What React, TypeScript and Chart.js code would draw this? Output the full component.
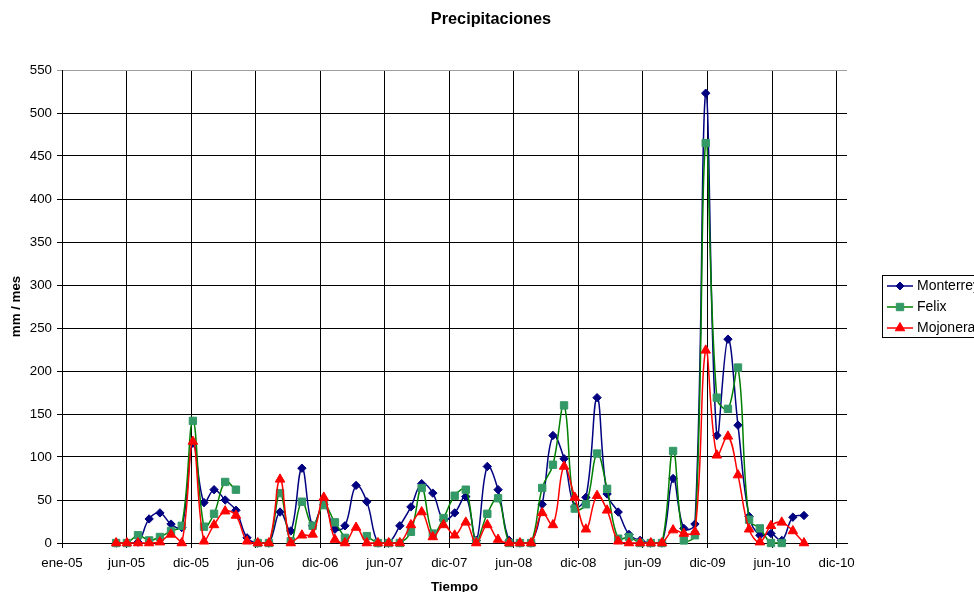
import React, { useEffect, useRef } from 'react';
import { Chart, registerables } from 'chart.js';

Chart.register(...registerables);

// Monthly precipitation (mm / mes), one value per month starting at startMonth
const startMonth = '2005-06';

const monterrey = [
  0, 0, 1, 28, 35, 22, 18, 116, 47, 62, 50, 38,
  6, 0, 0, 36, 14, 87, 20, 45, 16, 20, 67, 48,
  0, 0, 20, 42, 69, 58, 27, 35, 54, 3, 89, 62,
  3, 0, 0, 45, 125, 98, 42, 53, 169, 57, 36, 10,
  3, 0, 0, 75, 17, 22, 523, 125, 237, 137, 31, 9,
  11, 3, 30, 32,
];

const felix = [
  0, 0, 9, 3, 7, 14, 20, 142, 19, 34, 71, 62,
  null, 0, 0, 58, 2, 48, 20, 44, 24, 6, null, 8,
  0, 0, 0, 13, 64, 11, 29, 55, 62, 2, 34, 52,
  0, 0, 0, 64, 91, 160, 40, 45, 104, 63, 5, 7,
  0, 0, 0, 107, 3, 9, 465, 169, 156, 204, 27, 17,
  0, 0,
];

const mojonera = [
  0, 0, 0, 0, 1, 10, 0, 118, 2, 21, 37, 32,
  2, 0, 0, 74, 0, 9, 10, 53, 4, 0, 18, 0,
  0, 0, 0, 21, 36, 7, 21, 9, 24, 0, 21, 4,
  0, 0, 0, 35, 21, 89, 53, 16, 55, 38, 2, 0,
  0, 0, 0, 15, 11, 13, 224, 102, 124, 79, 16, 1,
  20, 24, 14, 0,
];

// Date axis: labels every 180 days counted from 1 Jan 2005
const xTickLabels = [
  'ene-05', 'jun-05', 'dic-05', 'jun-06', 'dic-06', 'jun-07', 'dic-07',
  'jun-08', 'dic-08', 'jun-09', 'dic-09', 'jun-10', 'dic-10',
];
const tickDays = 180;
const axisEndDays = 2189;
const yMax = 550;
const yStep = 50;

const FONT = '"Liberation Sans", Arial, sans-serif';
const DAY_MS = 86400000;
const origin = Date.UTC(2005, 0, 1);

function dayOfMonth(i: number): number {
  const [y, m] = startMonth.split('-').map(Number);
  return (Date.UTC(y, m - 1 + i, 1) - origin) / DAY_MS;
}

function toPoints(values: (number | null)[]) {
  return values.map((v, i) => ({ x: dayOfMonth(i), y: v }));
}

type Entry = { label: string; line: string; fill: string; marker: 'diamond' | 'square' | 'triangle' };

const legendEntries: Entry[] = [
  { label: 'Monterrey', line: '#000080', fill: '#000080', marker: 'diamond' },
  { label: 'Felix', line: '#008000', fill: '#339966', marker: 'square' },
  { label: 'Mojonera', line: '#ff0000', fill: '#ff0000', marker: 'triangle' },
];

function drawMarker(ctx: CanvasRenderingContext2D, e: Entry, x: number, y: number) {
  ctx.fillStyle = e.fill;
  ctx.strokeStyle = e.fill;
  ctx.lineWidth = 1;
  ctx.beginPath();
  if (e.marker === 'diamond') {
    const r = 4;
    ctx.moveTo(x - r, y);
    ctx.lineTo(x, y - r);
    ctx.lineTo(x + r, y);
    ctx.lineTo(x, y + r);
  } else if (e.marker === 'square') {
    const h = 3.7;
    ctx.rect(x - h, y - h, 2 * h, 2 * h);
  } else {
    const r = 5.5;
    ctx.moveTo(x, y - r);
    ctx.lineTo(x + 0.866 * r, y + 0.5 * r);
    ctx.lineTo(x - 0.866 * r, y + 0.5 * r);
  }
  ctx.closePath();
  ctx.fill();
  ctx.stroke();
}

// Chart title and the boxed legend on the right
const overlayPlugin = {
  id: 'overlay',
  afterDraw(chart: Chart) {
    const ctx = chart.ctx;
    ctx.save();
    ctx.fillStyle = '#000';
    ctx.font = `bold 16.3px ${FONT}`;
    ctx.textAlign = 'center';
    ctx.textBaseline = 'middle';
    ctx.fillText('Precipitaciones', 491, 20);

    ctx.strokeStyle = '#000';
    ctx.lineWidth = 1;
    ctx.strokeRect(882.5, 275.5, 140, 62);

    legendEntries.forEach((e, k) => {
      const y = 286 + k * 21;
      ctx.strokeStyle = e.line;
      ctx.lineWidth = 1.5;
      ctx.beginPath();
      ctx.moveTo(887, y);
      ctx.lineTo(913, y);
      ctx.stroke();
      drawMarker(ctx, e, 900, y);
      ctx.fillStyle = '#000';
      ctx.font = `14px ${FONT}`;
      ctx.textAlign = 'left';
      ctx.textBaseline = 'middle';
      ctx.fillText(e.label, 917, y);
    });
    ctx.restore();
  },
};

export default function App() {
  const canvasRef = useRef<HTMLCanvasElement | null>(null);

  useEffect(() => {
    const canvas = canvasRef.current;
    if (!canvas) return;

    const chart = new Chart(canvas, {
      type: 'line',
      data: {
        datasets: [
          {
            label: 'Monterrey',
            data: toPoints(monterrey),
            borderColor: '#000080',
            backgroundColor: '#000080',
            pointBackgroundColor: '#000080',
            pointBorderColor: '#000080',
            pointStyle: 'rectRot',
            pointRadius: 4.2,
            pointBorderWidth: 1,
            borderWidth: 1.5,
            tension: 0.4,
            clip: 8,
            order: 3,
          },
          {
            label: 'Felix',
            data: toPoints(felix),
            borderColor: '#008000',
            backgroundColor: '#339966',
            pointBackgroundColor: '#339966',
            pointBorderColor: '#339966',
            pointStyle: 'rect',
            pointRadius: 5.2,
            pointBorderWidth: 1,
            borderWidth: 1.5,
            tension: 0.4,
            spanGaps: false,
            clip: 8,
            order: 2,
          },
          {
            label: 'Mojonera',
            data: toPoints(mojonera),
            borderColor: '#ff0000',
            backgroundColor: '#ff0000',
            pointBackgroundColor: '#ff0000',
            pointBorderColor: '#ff0000',
            pointStyle: 'triangle',
            pointRadius: 5.5,
            pointBorderWidth: 1,
            borderWidth: 1.5,
            tension: 0.4,
            clip: 8,
            order: 1,
          },
        ],
      },
      options: {
        responsive: false,
        animation: false,
        devicePixelRatio: 1,
        layout: { padding: { top: 70, right: 127, bottom: 0, left: 0 } },
        plugins: {
          legend: { display: false },
          title: { display: false },
          tooltip: { enabled: false },
        },
        scales: {
          x: {
            type: 'linear',
            min: 0,
            max: axisEndDays,
            afterBuildTicks: (scale: any) => {
              scale.ticks = xTickLabels.map((_, k) => ({ value: k * tickDays }));
            },
            afterFit: (scale: any) => {
              scale.height = 49;
            },
            ticks: {
              autoSkip: false,
              maxRotation: 0,
              padding: 7,
              color: '#000',
              font: { family: FONT, size: 13.3 },
              callback: (v: any) => xTickLabels[Math.round(Number(v) / tickDays)],
            },
            grid: { color: '#000', lineWidth: 1, tickLength: 5 },
            border: { color: '#000', width: 1 },
            title: {
              display: true,
              text: 'Tiempo',
              color: '#000',
              font: { family: FONT, size: 13.3, weight: 'bold', lineHeight: 1 },
              padding: { top: 0, bottom: -1.5 },
            },
          },
          y: {
            min: 0,
            max: yMax,
            afterFit: (scale: any) => {
              scale.width = 62;
            },
            ticks: {
              stepSize: yStep,
              padding: 5,
              color: '#000',
              font: { family: FONT, size: 13.3 },
            },
            grid: {
              color: (c: any) => (c.tick && c.tick.value === yMax ? '#a0a0a0' : '#000'),
              lineWidth: 1,
              tickLength: 5,
            },
            border: { color: '#000', width: 1 },
            title: {
              display: true,
              text: 'mm / mes',
              color: '#000',
              font: { family: FONT, size: 13.3, weight: 'bold', lineHeight: 1 },
              padding: { top: 9.3, bottom: 0 },
            },
          },
        },
      },
      plugins: [overlayPlugin],
    } as any);

    return () => chart.destroy();
  }, []);

  return (
    <div style={{ position: 'absolute', left: 0, top: 0, width: 974, height: 592, background: '#fff' }}>
      <canvas ref={canvasRef} width={974} height={592} style={{ display: 'block' }} />
    </div>
  );
}
